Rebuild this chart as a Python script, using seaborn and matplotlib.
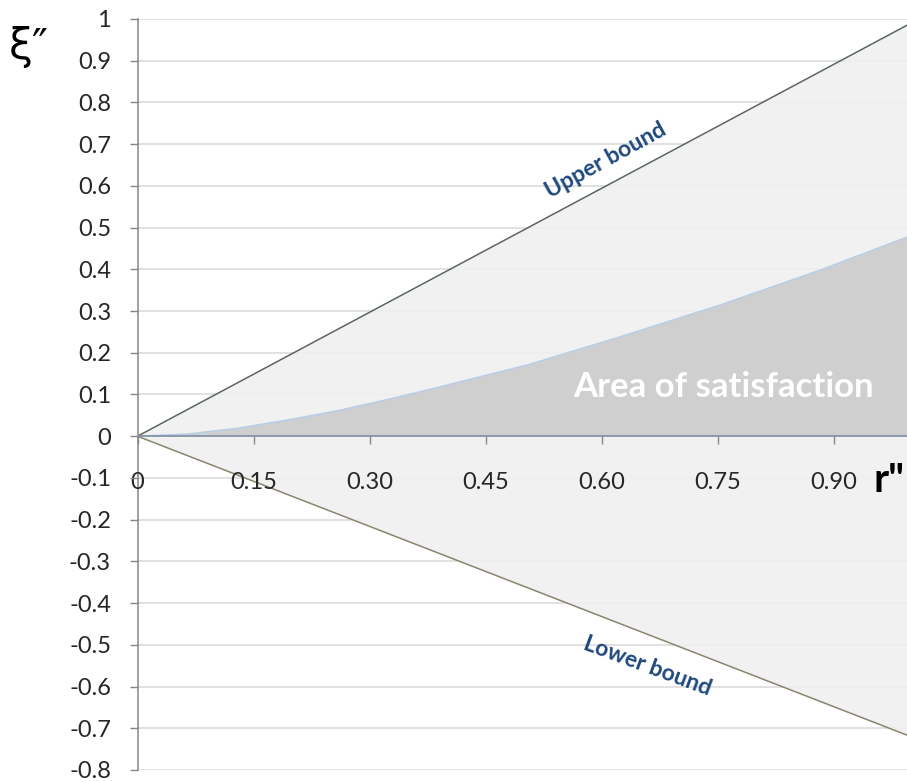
import matplotlib
matplotlib.use("Agg")
import matplotlib.pyplot as plt
import seaborn as sns
import numpy as np
import pandas as pd

# ---- data ----
bound_r = [0.0, 1.0]
upper_bound = [0.0, 0.99]
lower_bound = [0.0, -0.72]

sat_r = [0.0, 0.065, 0.13, 0.195, 0.259, 0.324, 0.389, 0.453, 0.505,
         0.624, 0.753, 0.883, 0.995, 1.0]
sat_xi = [0.0, 0.005, 0.019, 0.039, 0.061, 0.088, 0.117, 0.147, 0.171,
          0.238, 0.314, 0.398, 0.477, 0.48]

x_ticks = [0.0, 0.15, 0.30, 0.45, 0.60, 0.75, 0.90]
x_tick_labels = ["0", "0.15", "0.30", "0.45", "0.60", "0.75", "0.90"]
y_ticks = [1.0, 0.9, 0.8, 0.7, 0.6, 0.5, 0.4, 0.3, 0.2, 0.1, 0.0,
           -0.1, -0.2, -0.3, -0.4, -0.5, -0.6, -0.7, -0.8]
y_tick_labels = ["1", "0.9", "0.8", "0.7", "0.6", "0.5", "0.4", "0.3", "0.2", "0.1", "0",
                 "-0.1", "-0.2", "-0.3", "-0.4", "-0.5", "-0.6", "-0.7", "-0.8"]

sns.set_style("white")
plt.rcParams["font.family"] = ["Lato", "DejaVu Sans"]
plt.rcParams["axes.unicode_minus"] = False

W, H = 907, 782
fig = plt.figure(figsize=(W / 100, H / 100), dpi=100)
ax = fig.add_axes([137.5 / W, 12 / H, (W - 137.5) / W, 751 / H])

bounds = pd.DataFrame({"r": bound_r, "upper": upper_bound, "lower": lower_bound})
sat = pd.DataFrame({"r": sat_r, "xi": sat_xi})

# horizontal gridlines (drawn under the fills)
for yv in y_ticks:
    ax.axhline(yv, color="#d9d9d9", lw=1.1, zorder=0.5)

# light region between bounds
ax.fill_between(bounds["r"], bounds["lower"], bounds["upper"], color="#f0f0f0", alpha=0.88,
                lw=0, zorder=1)
# satisfaction area
ax.fill_between(sat["r"], 0, sat["xi"], color="#cfcfcf", lw=0, zorder=1.5)
sns.lineplot(data=sat, x="r", y="xi", ax=ax, color="#b8cce4", lw=1.2, zorder=1.6)

sns.lineplot(data=bounds, x="r", y="upper", ax=ax, color="#5b6464", lw=1.1, zorder=2)
sns.lineplot(data=bounds, x="r", y="lower", ax=ax, color="#8a8470", lw=1.1, zorder=2)

# baseline at 0
ax.axhline(0, color="#8596a8", lw=1.3, zorder=2.2)

ax.set_xlim(0, 0.995)
ax.set_ylim(-0.8, 1.0)

ax.set_yticks(y_ticks)
ax.set_yticklabels(y_tick_labels)
ax.set_xticks(x_ticks)
ax.set_xticklabels(x_tick_labels)

ax.grid(False)
ax.set_axisbelow(False)

for s in ["top", "right"]:
    ax.spines[s].set_visible(False)
ax.spines["left"].set_color("#868686")
ax.spines["left"].set_linewidth(1.1)
ax.spines["bottom"].set_position(("data", 0))
ax.spines["bottom"].set_visible(False)

ax.tick_params(axis="y", direction="out", length=6, width=1, color="#868686",
               labelsize=17, pad=13, left=True)
ax.tick_params(axis="x", direction="out", length=6, width=1, color="#868686",
               labelsize=17, pad=20, bottom=True)
ax.xaxis.set_ticks_position("bottom")

ax.set_xlabel("")
ax.set_ylabel("")

ax.text(0.605, 0.662, "Upper bound", rotation=28.8, rotation_mode="anchor",
        ha="center", va="center", color="#1f497d", fontsize=16.5, fontweight="bold", zorder=6)
ax.text(0.659, -0.551, "Lower bound", rotation=-20.3, rotation_mode="anchor",
        ha="center", va="center", color="#1f497d", fontsize=16.5, fontweight="bold", zorder=6)
ax.text(0.758, 0.118, "Area of satisfaction", ha="center", va="center",
        color="white", fontsize=25, fontweight="bold", zorder=6)

fig.text(905 / W, 1 - 481 / H, "r\"", ha="right", va="center", fontsize=29,
         fontweight="bold", color="black")
fig.text(9 / W, 1 - 47 / H, "ξ″", ha="left", va="center", fontsize=31,
         family=["DejaVu Sans"], color="black")

fig.savefig("out.png", dpi=100)
